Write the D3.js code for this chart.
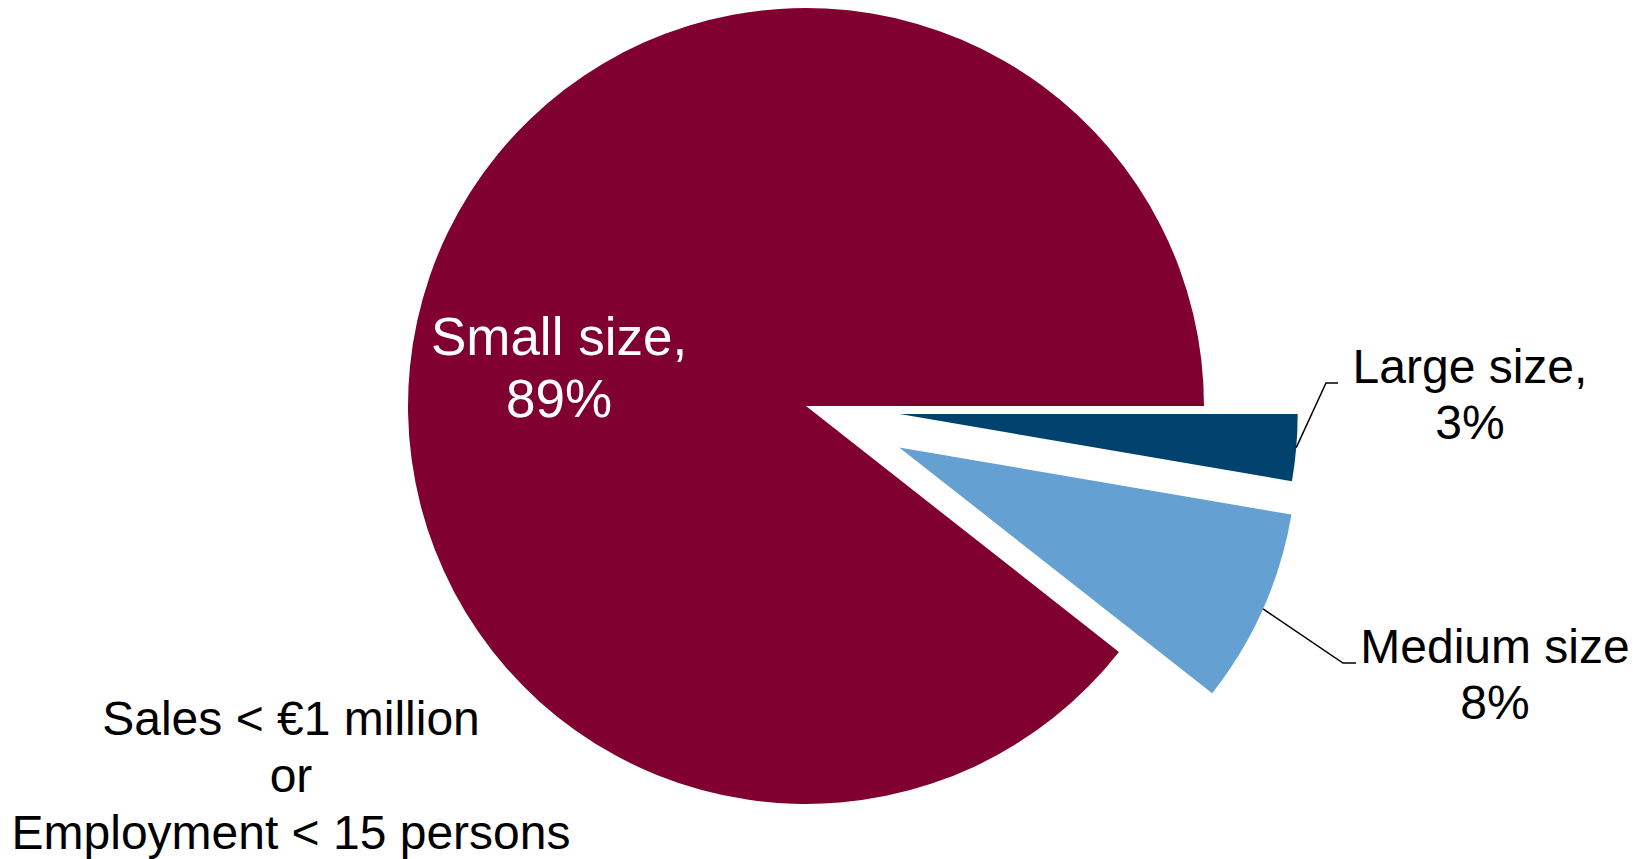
<!DOCTYPE html>
<html>
<head>
<meta charset="utf-8">
<script src="https://cdn.jsdelivr.net/npm/d3@7"></script>
<style>
  html, body { margin: 0; padding: 0; background: #fff; }
  svg { display: block; font-family: "Liberation Sans", Arial, sans-serif; }
</style>
</head>
<body>
<div id="chart"></div>
<script>
// data
const categories = ["Large size", "Medium size", "Small size"];
const shares = [2.7, 7.9, 89.4];
const labelFirstLines = ["Large size,", "Medium size", "Small size,"];
const noteLines = ["Sales < \u20ac1 million", "or", "Employment < 15 persons"];

const w = 1650;
const h = 859;
const cx = 806;
const cy = 406;
const radius = 398;
// how far each slice is pulled out
const explode = { "Large size": 94, "Medium size": 102, "Small size": 0 };

const colors = d3.scaleOrdinal()
  .domain(categories)
  .range(["#00426e", "#65a0d3", "#800030"]);

const data = categories.map((c, i) => ({ name: c, value: shares[i], first: labelFirstLines[i] }));

const pie = d3.pie()
  .sort(null)
  .value(d => d.value)
  .startAngle(Math.PI / 2)
  .endAngle(Math.PI / 2 + 2 * Math.PI);

const arcs = pie(data);
const arc = d3.arc().innerRadius(0).outerRadius(radius);

const svg = d3.select("#chart")
  .append("svg")
  .attr("width", w)
  .attr("height", h);

const g = svg.append("g")
  .attr("transform", "translate(" + cx + "," + cy + ")");

// offset of an exploded slice
function offset(d) {
  const e = explode[d.data.name];
  const a = (d.startAngle + d.endAngle) / 2;
  return [e * Math.sin(a), -e * Math.cos(a)];
}

g.selectAll("path.slice")
  .data(arcs)
  .join("path")
    .attr("class", "slice")
    .attr("d", arc)
    .attr("transform", d => "translate(" + offset(d) + ")")
    .attr("fill", d => colors(d.data.name));

// label layout (positions of label blocks)
const labelPos = {
  "Large size":  { x: 1470, y: 383, size: 48, lh: 56, color: "#000", elbow: [1326, 383], end: 1338 },
  "Medium size": { x: 1495, y: 663, size: 48, lh: 56, color: "#000", elbow: [1343, 663], end: 1356 },
  "Small size":  { x: 559, y: 355, size: 53, lh: 62, color: "#fff" }
};

// leader lines
arcs.filter(d => labelPos[d.data.name].elbow).forEach(d => {
  const p = labelPos[d.data.name];
  const a = (d.startAngle + d.endAngle) / 2;
  const o = offset(d);
  const sx = cx + o[0] + radius * Math.sin(a);
  const sy = cy + o[1] - radius * Math.cos(a);
  svg.append("polyline")
    .attr("points", [[sx, sy], p.elbow, [p.end, p.elbow[1]]].map(q => q.join(",")).join(" "))
    .attr("fill", "none")
    .attr("stroke", "#000")
    .attr("stroke-width", 1.5);
});

arcs.forEach(d => {
  const p = labelPos[d.data.name];
  const t = svg.append("text")
    .attr("text-anchor", "middle")
    .attr("fill", p.color)
    .style("font-size", p.size + "px");
  t.append("tspan").attr("x", p.x).attr("y", p.y).text(d.data.first);
  t.append("tspan").attr("x", p.x).attr("y", p.y + p.lh).text(Math.round(d.data.value) + "%");
});

// note
svg.append("text")
  .attr("text-anchor", "middle")
  .style("font-size", "48px")
  .attr("fill", "#000")
  .selectAll("tspan")
  .data(noteLines)
  .join("tspan")
    .attr("x", 291)
    .attr("y", (d, i) => 735 + i * 57)
    .text(d => d);
</script>
</body>
</html>
